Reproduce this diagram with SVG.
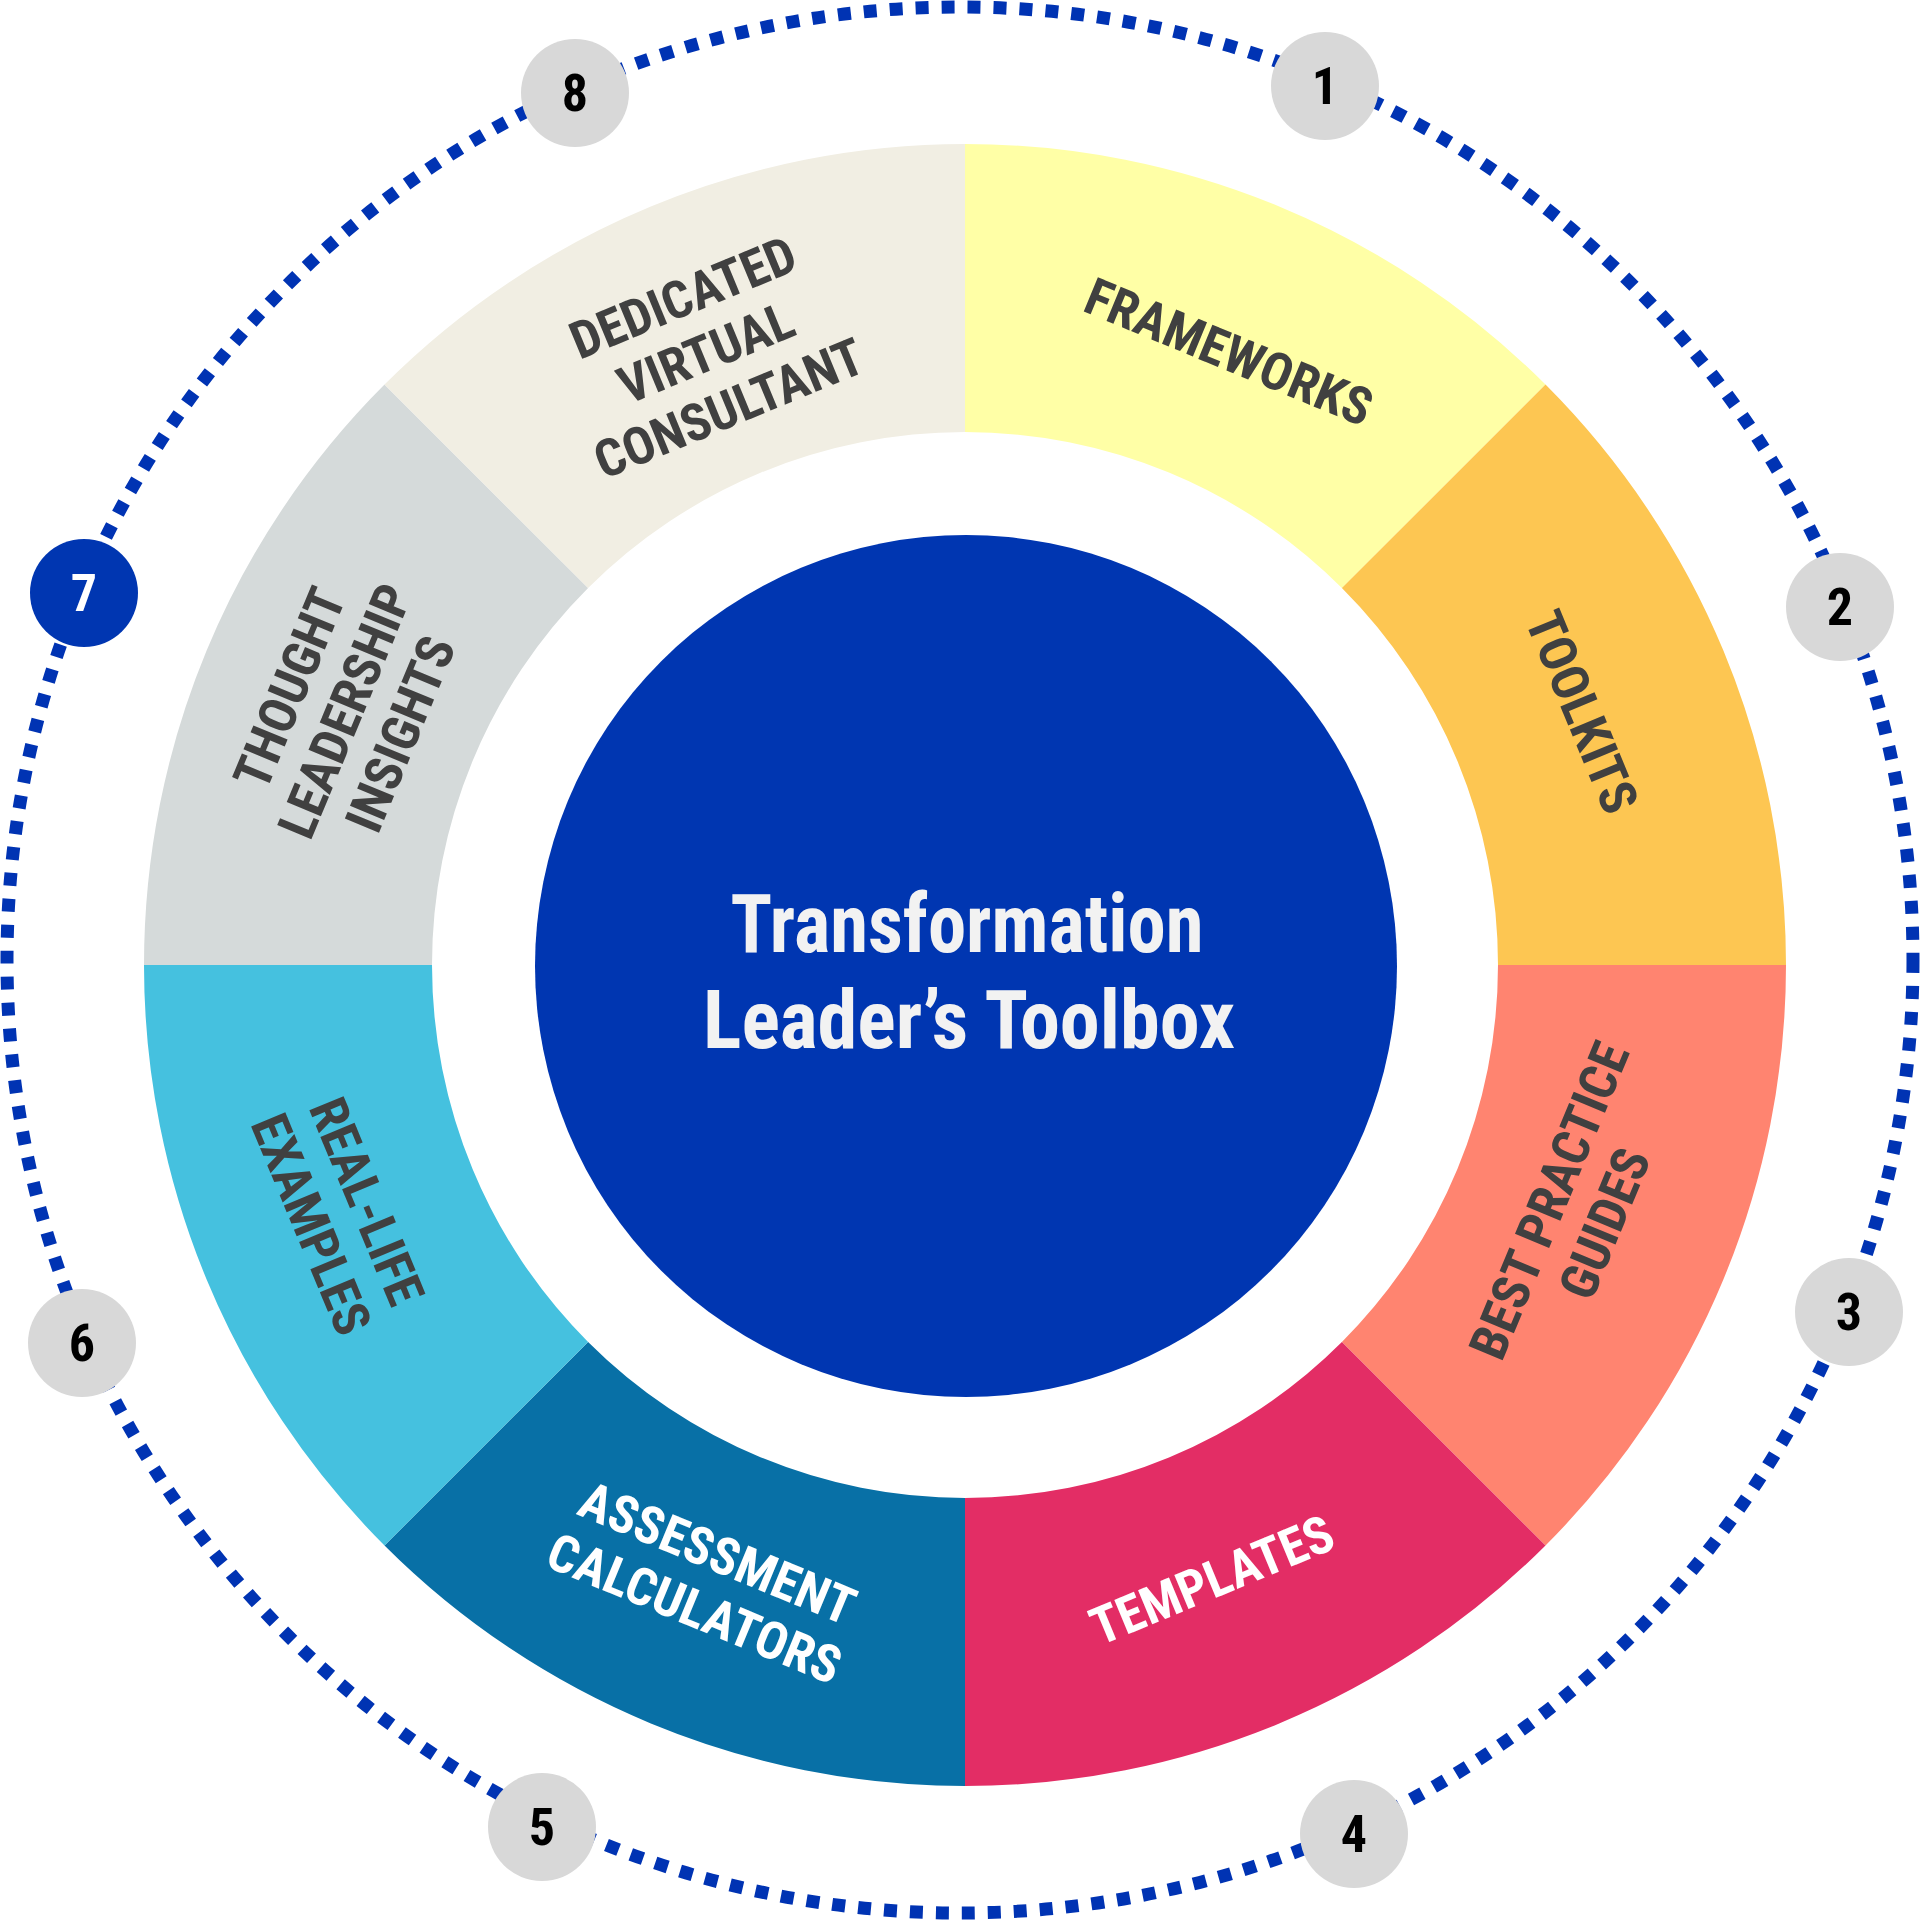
<svg xmlns="http://www.w3.org/2000/svg" width="1920" height="1921" viewBox="0 0 1920 1921">
<style>
.lbl{font-family:"Liberation Sans Narrow","Roboto Condensed","DejaVu Sans Condensed","Liberation Sans",sans-serif;font-weight:bold;font-stretch:condensed;font-size:52px;text-anchor:middle;fill:#404040}
.w{fill:#FFFFFF}
.num{font-family:"Liberation Sans Narrow","Roboto Condensed","DejaVu Sans Condensed","Liberation Sans",sans-serif;font-weight:bold;font-stretch:condensed;font-size:52px;text-anchor:middle;fill:#000000}
.badge{fill:#D8D8D8}
.title{font-family:"Liberation Sans Narrow","Roboto Condensed","DejaVu Sans Condensed","Liberation Sans",sans-serif;font-weight:bold;font-stretch:condensed;font-size:82px;text-anchor:middle;fill:#F2F2F2}
</style>
<rect width="1920" height="1921" fill="#FFFFFF"/>
<g id="connectors">
<circle cx="960" cy="960" r="953" fill="none" stroke="#0033B3" stroke-width="13" stroke-dasharray="13 13"/>
</g>
<g id="ring">
<g id="seg-frameworks"><path d="M965,144 A821,821 0 0 1 1545.5,384.5 L1341.9,588.1 A533,533 0 0 0 965,432 Z" fill="#FFFFA6"/>
<text class="lbl" transform="translate(1229,352) rotate(22.5)" y="18">FRAMEWORKS</text></g>
<g id="seg-toolkits"><path d="M1545.5,384.5 A821,821 0 0 1 1786,965 L1498,965 A533,533 0 0 0 1341.9,588.1 Z" fill="#FDC652"/>
<text class="lbl" transform="translate(1582,712) rotate(67.5)" y="18">TOOLKITS</text></g>
<g id="seg-bestpractice"><path d="M1786,965 A821,821 0 0 1 1545.5,1545.5 L1341.9,1341.9 A533,533 0 0 0 1498,965 Z" fill="#FF8470"/>
<text class="lbl" transform="translate(1577,1212) rotate(-67.5)" y="-12"><tspan x="0">BEST PRACTICE</tspan><tspan x="0" dy="60">GUIDES</tspan></text></g>
<g id="seg-templates"><path d="M1545.5,1545.5 A821,821 0 0 1 965,1786 L965,1498 A533,533 0 0 0 1341.9,1341.9 Z" fill="#E32D65"/>
<text class="lbl w" transform="translate(1212,1580) rotate(-22.5)" y="18">TEMPLATES</text></g>
<g id="seg-assessment"><path d="M965,1786 A821,821 0 0 1 384.5,1545.5 L588.1,1341.9 A533,533 0 0 0 965,1498 Z" fill="#0870A6"/>
<text class="lbl w" transform="translate(706,1581) rotate(22.5)" y="-12"><tspan x="0">ASSESSMENT</tspan><tspan x="0" dy="60">CALCULATORS</tspan></text></g>
<g id="seg-reallife"><path d="M384.5,1545.5 A821,821 0 0 1 144,965 L432,965 A533,533 0 0 0 588.1,1341.9 Z" fill="#45C1DF"/>
<text class="lbl" transform="translate(339,1213) rotate(67.5)" y="-12"><tspan x="0">REAL-LIFE</tspan><tspan x="0" dy="60">EXAMPLES</tspan></text></g>
<g id="seg-thought"><path d="M144,965 A821,821 0 0 1 384.5,384.5 L588.1,588.1 A533,533 0 0 0 432,965 Z" fill="#D5DADA"/>
<text class="lbl" transform="translate(345,711) rotate(-67.5)" y="-42"><tspan x="0">THOUGHT</tspan><tspan x="0" dy="60">LEADERSHIP</tspan><tspan x="0" dy="60">INSIGHTS</tspan></text></g>
<g id="seg-dedicated"><path d="M384.5,384.5 A821,821 0 0 1 965,144 L965,432 A533,533 0 0 0 588.1,588.1 Z" fill="#F1EEE3"/>
<text class="lbl" transform="translate(706,353) rotate(-22.5)" y="-42"><tspan x="0">DEDICATED</tspan><tspan x="0" dy="60">VIRTUAL</tspan><tspan x="0" dy="60">CONSULTANT</tspan></text></g>
</g>
<g id="center">
<circle cx="966" cy="966" r="431" fill="#0036B1"/>
<text class="title" x="967" y="952" textLength="473" lengthAdjust="spacingAndGlyphs">Transformation</text>
<text class="title" x="969" y="1048" textLength="532" lengthAdjust="spacingAndGlyphs">Leader’s Toolbox</text>
</g>
<g id="badge-1"><circle class="badge" cx="1325" cy="86" r="54"/><text class="num" x="1325" y="104">1</text></g>
<g id="badge-2"><circle class="badge" cx="1840" cy="607" r="54"/><text class="num" x="1840" y="625">2</text></g>
<g id="badge-3"><circle class="badge" cx="1849" cy="1312" r="54"/><text class="num" x="1849" y="1330">3</text></g>
<g id="badge-4"><circle class="badge" cx="1354" cy="1834" r="54"/><text class="num" x="1354" y="1852">4</text></g>
<g id="badge-5"><circle class="badge" cx="542" cy="1827" r="54"/><text class="num" x="542" y="1845">5</text></g>
<g id="badge-6"><circle class="badge" cx="82" cy="1343" r="54"/><text class="num" x="82" y="1361">6</text></g>
<g id="badge-7"><circle cx="84" cy="593" r="54" fill="#0036B1"/><text class="num" x="84" y="611" style="fill:#FFFFFF">7</text></g>
<g id="badge-8"><circle class="badge" cx="575" cy="93" r="54"/><text class="num" x="575" y="111">8</text></g>
</svg>
